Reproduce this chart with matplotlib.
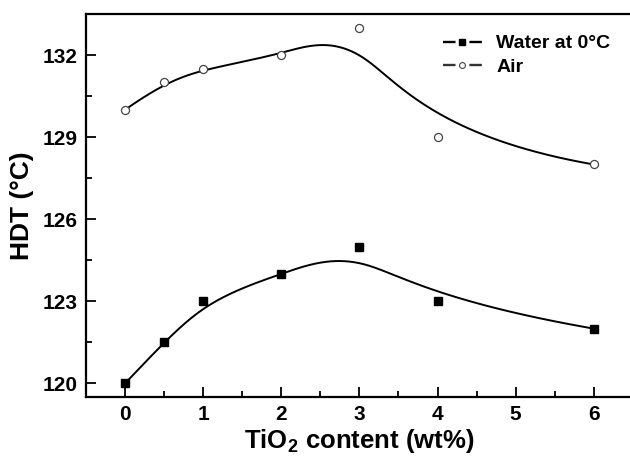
import matplotlib
matplotlib.use('Agg')
import matplotlib.pyplot as plt
import numpy as np

plt.rcParams['font.family'] = ['Liberation Sans', 'DejaVu Sans']
plt.rcParams['font.weight'] = 'bold'
plt.rcParams['mathtext.fontset'] = 'custom'
plt.rcParams['mathtext.rm'] = 'Liberation Sans:bold'
plt.rcParams['mathtext.bf'] = 'Liberation Sans:bold'
plt.rcParams['mathtext.default'] = 'bf'
plt.rcParams['lines.scale_dashes'] = False

# data
tio2 = [0, 0.5, 1, 2, 3, 4, 6]
hdt_water = [120, 121.5, 123, 124, 125, 123, 122]
hdt_air = [130, 131, 131.5, 132, 133, 129, 128]


def bspline(px, py, n_out=300, k=3):
    # clamped cubic B-spline, data points used as control points
    pts = np.column_stack([px, py]).astype(float)
    n = len(pts)
    inner = np.arange(1, n - k)
    knots = np.concatenate([np.zeros(k + 1), inner, np.full(k + 1, n - k)]).astype(float)
    t = np.linspace(0, n - k, n_out)
    t[-1] -= 1e-9

    def basis(i, d, t):
        if d == 0:
            return ((knots[i] <= t) & (t < knots[i + 1])).astype(float)
        out = np.zeros_like(t)
        den1 = knots[i + d] - knots[i]
        den2 = knots[i + d + 1] - knots[i + 1]
        if den1 > 0:
            out += (t - knots[i]) / den1 * basis(i, d - 1, t)
        if den2 > 0:
            out += (knots[i + d + 1] - t) / den2 * basis(i + 1, d - 1, t)
        return out

    curve = sum(basis(i, k, t)[:, None] * pts[i] for i in range(n))
    return curve[:, 0], curve[:, 1]


fig = plt.figure(figsize=(6.3, 4.59), dpi=100)
ax = fig.add_axes([0.1365, 0.135, 0.868, 0.8345])

cx, cy = bspline(tio2, hdt_water)
ax.plot(cx, cy, color='black', lw=1.4)
cx, cy = bspline(tio2, hdt_air)
ax.plot(cx, cy, color='black', lw=1.4)

ax.plot(tio2, hdt_water, ls='none', marker='s', ms=5.2, color='black')
ax.plot(tio2, hdt_air, ls='none', marker='o', ms=5.8, mfc='white', mec='#444444', mew=0.9)

# legend handles: line - marker - line (gap around the marker)
gap = (9.0, 10.0)
h1, = ax.plot([], [], color='black', lw=1.7, dashes=gap, marker='s', ms=4, label='Water at 0°C')
h2, = ax.plot([], [], color='#333333', lw=1.7, dashes=gap, marker='o', ms=4.2,
              mfc='white', mec='#444444', mew=0.8, label='Air')
ax.legend(handles=[h1, h2], loc='upper left', bbox_to_anchor=(0.703, 0.924),
          bbox_transform=fig.transFigure, frameon=False, borderpad=0, borderaxespad=0,
          handlelength=2.0, handletextpad=0.75, labelspacing=0.3,
          prop={'weight': 'bold', 'size': 14})

ax.set_xlim(-0.5, 6.5)
ax.set_ylim(119.5, 133.5)
ax.set_xticks([0, 1, 2, 3, 4, 5, 6])
ax.set_xticks(np.arange(-0.5, 6.5, 0.5), minor=True)
ax.set_yticks([120, 123, 126, 129, 132])
ax.set_yticks(np.arange(121.5, 133.5, 3), minor=True)
ax.tick_params(direction='in', which='major', length=7, width=1.3, labelsize=15, pad=6)
ax.tick_params(direction='in', which='minor', length=4, width=1.3)
for lab in ax.get_xticklabels() + ax.get_yticklabels():
    lab.set_fontweight('bold')
for s in ['top', 'bottom', 'left', 'right']:
    ax.spines[s].set_linewidth(1.6)

ax.set_xlabel(r'TiO$_2$ content (wt%)', fontsize=18.5, fontweight='bold', labelpad=2)
ax.set_ylabel('HDT (°C)', fontsize=19, fontweight='bold', labelpad=6)

fig.savefig('out.png', dpi=100)
